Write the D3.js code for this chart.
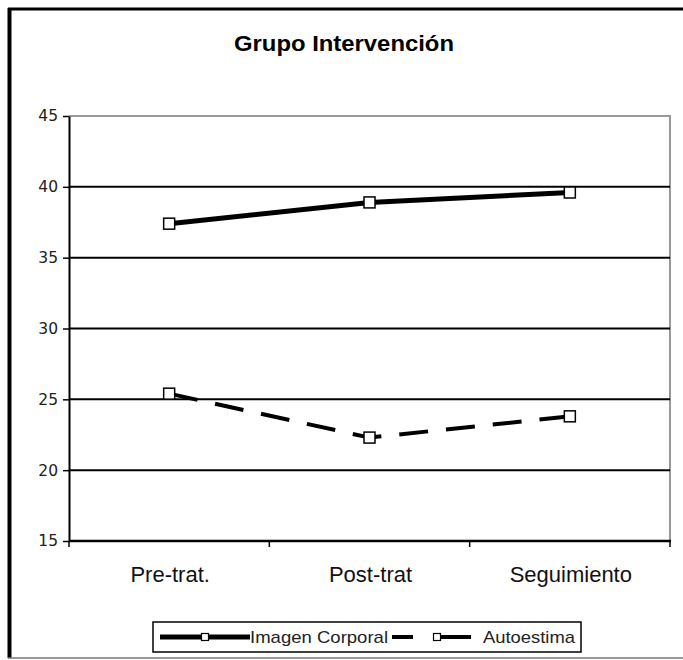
<!DOCTYPE html>
<html>
<head>
<meta charset="utf-8">
<script src="https://cdn.jsdelivr.net/npm/d3@7.9.0/dist/d3.min.js"></script>
<style>
  html, body { margin: 0; padding: 0; background: #fff; }
  svg { display: block; font-family: "Liberation Sans", Arial, sans-serif; }
</style>
</head>
<body>
<svg id="chart" width="683" height="660"></svg>
<script>
// datos
const categories = ['Pre-trat.', 'Post-trat', 'Seguimiento'];
const imagenCorporal = [37.4, 38.9, 39.6];
const autoestima = [25.4, 22.3, 23.8];
const yTicks = [15, 20, 25, 30, 35, 40, 45];

const series = [
  { name: 'Imagen Corporal', values: imagenCorporal, width: 5, dash: null },
  { name: 'Autoestima', values: autoestima, width: 4, dash: '29,18' },
];

const svg = d3.select('#chart');

// marco exterior
svg.append('line').attr('x1', 8).attr('x2', 683).attr('y1', 9).attr('y2', 9)
  .attr('stroke', '#000').attr('stroke-width', 3);
svg.append('line').attr('x1', 9.5).attr('x2', 9.5).attr('y1', 8).attr('y2', 658)
  .attr('stroke', '#000').attr('stroke-width', 4);
svg.append('line').attr('x1', 8).attr('x2', 683).attr('y1', 658).attr('y2', 658)
  .attr('stroke', '#777').attr('stroke-width', 1.5);

// título
svg.append('text')
  .attr('x', 344).attr('y', 51)
  .attr('text-anchor', 'middle')
  .attr('font-size', 22).attr('font-weight', 'bold')
  .attr('textLength', 220).attr('lengthAdjust', 'spacingAndGlyphs')
  .text('Grupo Intervención');

// escalas
const plotLeft = 69, plotRight = 670, plotTop = 116, plotBottom = 541;
const x = d3.scaleBand().domain(categories).range([plotLeft, plotRight]);
const y = d3.scaleLinear().domain([15, 45]).range([plotBottom, plotTop]);
const cx = (i) => x(categories[i]) + x.bandwidth() / 2;

// borde gris del área de trazado
svg.append('path')
  .attr('d', `M${plotLeft},${y(45)}H${plotRight}V${y(15)}`)
  .attr('fill', 'none').attr('stroke', '#999').attr('stroke-width', 2);

// líneas de cuadrícula
svg.append('g')
  .selectAll('line')
  .data(yTicks.filter((t) => t > 15 && t < 45))
  .join('line')
  .attr('x1', plotLeft).attr('x2', plotRight)
  .attr('y1', (d) => y(d)).attr('y2', (d) => y(d))
  .attr('stroke', '#000').attr('stroke-width', 2);

// eje Y
const yAxis = svg.append('g')
  .attr('transform', `translate(${plotLeft},0)`)
  .call(d3.axisLeft(y).tickValues(yTicks).tickSize(6).tickPadding(5).tickSizeOuter(0));
yAxis.select('.domain').attr('stroke-width', 2);
yAxis.selectAll('.tick line').attr('stroke-width', 1.5);
yAxis.selectAll('.tick text').attr('fill', '#222')
  .attr('font-family', '"DejaVu Sans", sans-serif').attr('font-size', 15.5);

// eje X
const xg = svg.append('g');
xg.append('line').attr('x1', plotLeft).attr('x2', plotRight + 1)
  .attr('y1', plotBottom).attr('y2', plotBottom)
  .attr('stroke', '#000').attr('stroke-width', 2.5);
const bounds = categories.map((c) => x(c)).concat([x.range()[1]]);
xg.selectAll('line.tk')
  .data(bounds)
  .join('line').attr('class', 'tk')
  .attr('x1', (d) => d).attr('x2', (d) => d)
  .attr('y1', plotBottom).attr('y2', plotBottom + 6)
  .attr('stroke', '#000').attr('stroke-width', 1.5);
xg.selectAll('text')
  .data(categories)
  .join('text')
  .attr('x', (d, i) => cx(i) + 1)
  .attr('y', 582)
  .attr('text-anchor', 'middle')
  .attr('font-size', 22)
  .attr('fill', '#111')
  .text((d) => d);

// series
const line = d3.line().x((d, i) => cx(i)).y((d) => y(d));
series.forEach((s) => {
  svg.append('path')
    .datum(s.values)
    .attr('d', line)
    .attr('fill', 'none')
    .attr('stroke', '#000')
    .attr('stroke-width', s.width)
    .attr('stroke-dasharray', s.dash);
  svg.append('g')
    .selectAll('rect')
    .data(s.values)
    .join('rect')
    .attr('x', (d, i) => cx(i) - 5.5)
    .attr('y', (d) => y(d) - 5.5)
    .attr('width', 11).attr('height', 11)
    .attr('fill', '#fff').attr('stroke', '#000').attr('stroke-width', 1.5);
});

// leyenda
const lg = svg.append('g');
lg.append('rect')
  .attr('x', 153).attr('y', 622).attr('width', 428).attr('height', 30)
  .attr('fill', '#fff').attr('stroke', '#000').attr('stroke-width', 1.5);
const legendItems = [
  { s: series[0], x1: 160, x2: 250, tx: 250, len: 138 },
  { s: series[1], x1: 392, x2: 471, tx: 483, len: 92 },
];
legendItems.forEach((it) => {
  lg.append('line')
    .attr('x1', it.x1).attr('x2', it.x2).attr('y1', 637).attr('y2', 637)
    .attr('stroke', '#000').attr('stroke-width', it.s.width)
    .attr('stroke-dasharray', it.s.dash ? '21,20,40' : null);
  const mx = it.s.dash ? 437 : 205;
  lg.append('rect')
    .attr('x', mx - 3.5).attr('y', 633.5).attr('width', 7).attr('height', 7)
    .attr('fill', '#fff').attr('stroke', '#000').attr('stroke-width', 1.2);
  lg.append('text')
    .attr('x', it.tx).attr('y', 643)
    .attr('font-size', 17)
    .attr('fill', '#222')
    .attr('textLength', it.len).attr('lengthAdjust', 'spacingAndGlyphs')
    .text(it.s.name);
});
</script>
</body>
</html>
